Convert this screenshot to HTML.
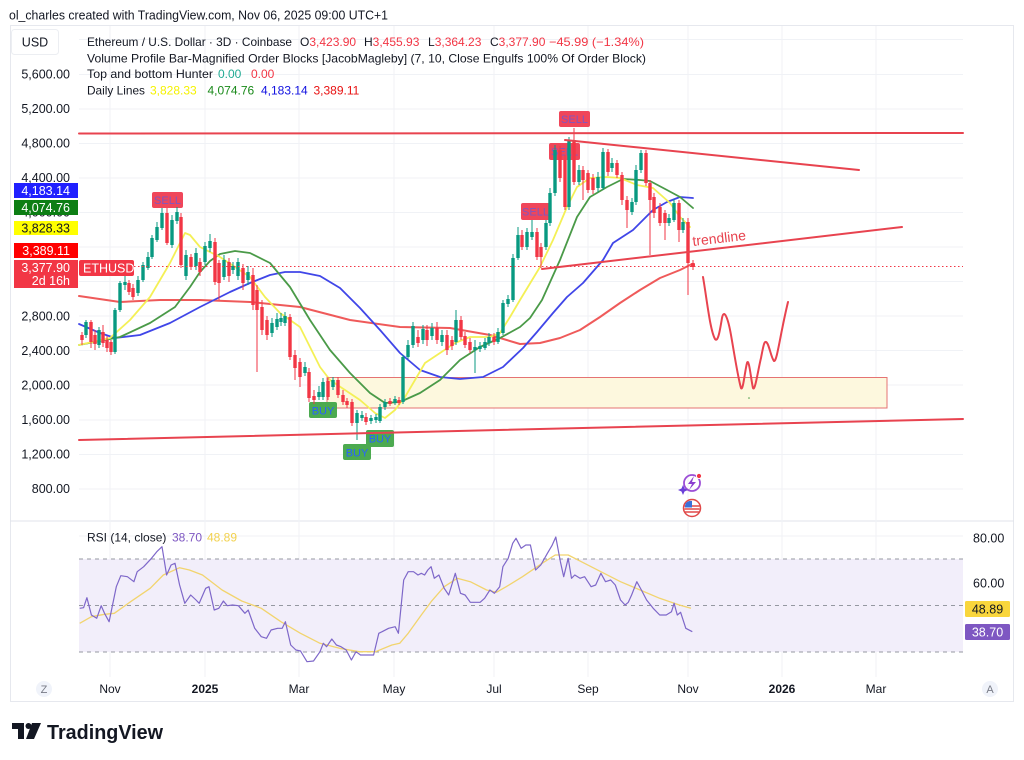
<!DOCTYPE html>
<html><head><meta charset="utf-8"><style>
html,body{margin:0;padding:0;background:#fff;}
svg{display:block;font-family:"Liberation Sans",Arial,sans-serif;}
</style></head><body>
<svg width="1024" height="760" viewBox="0 0 1024 760" xmlns="http://www.w3.org/2000/svg">
<rect width="1024" height="760" fill="#fff"/>
<!-- header -->
<text x="9" y="19.5" font-size="13" fill="#131722" textLength="379" lengthAdjust="spacingAndGlyphs">ol_charles created with TradingView.com, Nov 06, 2025 09:00 UTC+1</text>
<!-- frame -->
<rect x="10.5" y="25.5" width="1003" height="676" fill="none" stroke="#e6e8ee"/>
<line x1="10" y1="521" x2="1014" y2="521" stroke="#e0e3eb"/>
<!-- grid -->
<g stroke="#f0f2f6" stroke-width="1">
<path d="M79 39.5H963M79 74.5H963M79 109H963M79 143.5H963M79 178H963M79 212.5H963M79 247H963M79 281.5H963M79 316H963M79 350.5H963M79 385H963M79 420H963M79 454.5H963M79 489H963"/>
<path d="M79 536H963M79 582.5H963M79 629H963"/>
<path d="M110 26V677M205 26V677M299 26V677M394 26V677M494 26V677M588 26V677M688 26V677M782 26V677M876 26V677"/>
</g>
<!-- USD box -->
<rect x="11.5" y="29.5" width="47" height="25" rx="3" fill="#fff" stroke="#eceef2"/>
<text x="35" y="46.5" font-size="12.5" fill="#131722" text-anchor="middle">USD</text>
<!-- legend -->
<g font-size="12" fill="#131722">
<text x="87" y="46" textLength="205" lengthAdjust="spacingAndGlyphs">Ethereum / U.S. Dollar · 3D · Coinbase</text>
<text x="300" y="46">O<tspan fill="#f23645">3,423.90</tspan></text>
<text x="364" y="46">H<tspan fill="#f23645">3,455.93</tspan></text>
<text x="428" y="46">L<tspan fill="#f23645">3,364.23</tspan></text>
<text x="490" y="46">C<tspan fill="#f23645">3,377.90</tspan></text>
<text x="549" y="46" fill="#f23645" textLength="95" lengthAdjust="spacingAndGlyphs">−45.99 (−1.34%)</text>
<text x="87" y="62.5" textLength="559" lengthAdjust="spacingAndGlyphs">Volume Profile Bar-Magnified Order Blocks [JacobMagleby] (7, 10, Close Engulfs 100% Of Order Block)</text>
<text x="87" y="78" textLength="126" lengthAdjust="spacingAndGlyphs">Top and bottom Hunter</text>
<text x="218" y="78" fill="#22ab94">0.00</text>
<text x="251" y="78" fill="#f23645">0.00</text>
<text x="87" y="94.5" textLength="58" lengthAdjust="spacingAndGlyphs">Daily Lines</text>
<text x="150" y="94.5" fill="#f5f200">3,828.33</text>
<text x="207.5" y="94.5" fill="#1a8a1a">4,074.76</text>
<text x="261" y="94.5" fill="#1010e0">4,183.14</text>
<text x="313.5" y="94.5" fill="#e81010">3,389.11</text>
</g>
<!-- price axis labels -->
<g font-size="12.5" fill="#131722" text-anchor="end">
<text x="70" y="78.5">5,600.00</text>
<text x="70" y="113">5,200.00</text>
<text x="70" y="147.5">4,800.00</text>
<text x="70" y="182">4,400.00</text>
<text x="70" y="216.5">4,000.00</text>
<text x="70" y="320.5">2,800.00</text>
<text x="70" y="355">2,400.00</text>
<text x="70" y="389.5">2,000.00</text>
<text x="70" y="424">1,600.00</text>
<text x="70" y="458.5">1,200.00</text>
<text x="70" y="493">800.00</text>
</g>
<!-- order block zone -->
<rect x="327" y="377.5" width="560" height="30.5" fill="#fdf8de" stroke="#e57373" stroke-width="1"/>
<!-- moving averages -->
<g fill="none" stroke-linejoin="round" stroke-linecap="round">
<polyline stroke="#ef5a5a" stroke-width="2" points="79,296 120,302 160,300 200,300 250,302 300,307 350,320 400,327 450,328 490,335 520,344 540,343 560,338 580,330 600,317 620,303 640,290 660,278 680,270 692,264"/>
<polyline stroke="#4046e8" stroke-width="1.8" points="79,324 100,333 115,338 140,335 170,323 200,307 230,292 250,283 270,275 285,272 300,272 320,276 340,288 360,308 380,330 400,353 420,370 440,377 460,379 483,377 503,367 523,348 537,332 553,313 567,297 583,283 603,260 613,243 633,230 653,210 667,202 680,197 693,198"/>
<polyline stroke="#4a9a48" stroke-width="1.8" points="79,345 120,337 150,323 175,307 190,287 200,272 210,261 220,254 235,251 250,253 270,263 290,287 310,320 330,350 350,373 370,393 385,403 400,402 420,393 440,380 460,360 480,347 500,338 520,327 530,318 542,300 560,260 577,217 590,197 607,187 623,179 640,180 650,181 667,190 680,197 693,208"/>
<polyline stroke="#f4f056" stroke-width="1.8" points="79,345 110,338 130,320 150,297 170,263 180,243 185,233 190,235 200,247 220,257 235,267 250,277 265,297 280,313 300,327 310,347 320,367 330,380 345,390 360,400 375,413 385,418 395,410 405,397 415,380 425,363 440,353 455,343 470,337 490,337 500,333 510,317 520,300 540,267 553,240 567,207 577,187 590,178 607,177 620,178 637,185 653,188 670,203 680,217 690,227"/>
</g>
<!-- signal labels -->
<g font-size="11" text-anchor="middle">
<rect x="152" y="192" width="31" height="16" rx="2" fill="#f0465a"/><text x="167.5" y="204" fill="#7e57c2">SELL</text>
<rect x="559" y="111" width="31" height="16" rx="2" fill="#f0465a"/><text x="574.5" y="123" fill="#7e57c2">SELL</text>
<rect x="549" y="143" width="31" height="17" rx="2" fill="#f0465a"/><text x="564.5" y="155.5" fill="#7e57c2">SELL</text>
<rect x="521" y="203" width="29" height="17" rx="2" fill="#f0465a"/><text x="535.5" y="215.5" fill="#7e57c2">SELL</text>
<rect x="309" y="402" width="28" height="16" rx="2" fill="#4caa50"/><text x="323" y="414.5" fill="#2962ff">BUY</text>
<rect x="366" y="430" width="28" height="17" rx="2" fill="#4caa50"/><text x="380" y="442.5" fill="#2962ff">BUY</text>
<rect x="343" y="444" width="28" height="16" rx="2" fill="#4caa50"/><text x="357" y="456.5" fill="#2962ff">BUY</text>
</g>
<!-- candles -->
<path stroke="#089981" stroke-width="1" fill="none" d="M86 320V338M99 327V348M115 308V354M120 281V312M125 276V290M138 276V296M143 262V282M148 252V270M152 235V259M157 222V242M162 208V230M172 215V248M177 207V224M186 250V280M196 248V270M205 242V265M210 234V252M224 255V280M233 262V274M238 258V280M248 266V285M272 318V337M277 313V330M281 313V326M285 312V326M305 362V376M319 386V400M323 378V400M333 377V390M357 410V440M362 411V421M371 415V424M376 414V423M380 404V423M385 399V410M395 396V405M403 355V404M408 340V359M413 322V348M423 325V344M432 323V340M442 330V346M456 310V345M475 340V373M480 342V352M485 338V350M489 333V346M498 328V344M503 300V335M508 295V307M513 254V302M518 227V260M527 228V250M532 220V240M546 220V250M550 188V226M555 145V196M569 137V210M579 165V185M598 172V192M603 148V190M612 158V172M632 198V215M636 165V205M641 150V173M669 214V226M674 199V222M683 218V233"/>
<path fill="#089981" d="M84.3 322h3.4v13h-3.4zM97.3 330h3.4v15h-3.4zM113.3 310h3.4v42h-3.4zM118.3 283h3.4v27h-3.4zM123.3 282h3.4v3h-3.4zM136.3 280h3.4v13h-3.4zM141.3 265h3.4v15h-3.4zM146.3 257h3.4v11h-3.4zM150.3 238h3.4v19h-3.4zM155.3 227h3.4v13h-3.4zM160.3 213h3.4v15h-3.4zM170.3 220h3.4v25h-3.4zM175.3 212h3.4v9h-3.4zM184.3 255h3.4v21h-3.4zM194.3 253h3.4v13h-3.4zM203.3 246h3.4v16h-3.4zM208.3 241h3.4v7h-3.4zM222.3 260h3.4v17h-3.4zM231.3 266h3.4v4h-3.4zM236.3 262h3.4v14h-3.4zM246.3 272h3.4v8h-3.4zM270.3 323h3.4v10h-3.4zM275.3 319h3.4v8h-3.4zM279.3 318h3.4v4h-3.4zM283.3 316h3.4v7h-3.4zM303.3 367h3.4v6h-3.4zM317.3 392h3.4v5h-3.4zM321.3 382h3.4v15h-3.4zM331.3 380h3.4v7h-3.4zM355.3 413h3.4v10h-3.4zM360.3 415h3.4v3h-3.4zM369.3 418h3.4v3h-3.4zM374.3 417h3.4v3h-3.4zM378.3 407h3.4v14h-3.4zM383.3 402h3.4v5h-3.4zM393.3 399h3.4v4h-3.4zM401.3 357h3.4v45h-3.4zM406.3 345h3.4v12h-3.4zM411.3 326h3.4v19h-3.4zM421.3 329h3.4v11h-3.4zM430.3 328h3.4v8h-3.4zM440.3 335h3.4v7h-3.4zM454.3 320h3.4v22h-3.4zM473.3 347h3.4v3h-3.4zM478.3 346h3.4v3h-3.4zM483.3 342h3.4v6h-3.4zM487.3 337h3.4v6h-3.4zM496.3 332h3.4v10h-3.4zM501.3 303h3.4v30h-3.4zM506.3 299h3.4v5h-3.4zM511.3 258h3.4v42h-3.4zM516.3 235h3.4v23h-3.4zM525.3 232h3.4v15h-3.4zM530.3 232h3.4v5h-3.4zM544.3 223h3.4v24h-3.4zM548.3 193h3.4v30h-3.4zM553.3 150h3.4v43h-3.4zM567.3 140h3.4v67h-3.4zM577.3 170h3.4v12h-3.4zM596.3 177h3.4v11h-3.4zM601.3 152h3.4v36h-3.4zM610.3 163h3.4v5h-3.4zM630.3 202h3.4v10h-3.4zM634.3 170h3.4v32h-3.4zM639.3 153h3.4v17h-3.4zM667.3 218h3.4v5h-3.4zM672.3 203h3.4v17h-3.4zM681.3 222h3.4v8h-3.4z"/>
<path stroke="#f23645" stroke-width="1" fill="none" d="M82 332V345M91 320V348M95 330V350M103 325V347M107 336V352M111 340V355M129 280V295M133 284V300M167 208V245M181 213V268M191 254V270M200 258V276M215 238V285M219 260V300M229 258V282M243 264V290M253 268V310M257 285V372M262 300V335M267 316V340M290 314V360M295 350V380M300 358V387M309 368V402M314 390V404M328 377V400M338 377V398M343 390V405M347 398V408M352 399V426M366 413V425M390 398V406M399 397V405M418 330V347M427 325V346M437 322V344M447 330V355M452 336V350M461 316V340M465 332V348M470 338V353M494 333V345M522 230V250M537 228V260M541 243V268M560 146V182M565 155V210M574 128V185M583 166V200M588 170V193M593 174V194M608 149V176M617 160V178M622 172V205M627 196V228M646 150V186M650 180V255M654 193V218M660 203V226M665 210V240M679 200V242M688 218V295M693 260V270"/>
<path fill="#f23645" d="M80.3 335h3.4v5h-3.4zM89.3 322h3.4v20h-3.4zM93.3 335h3.4v9h-3.4zM101.3 332h3.4v11h-3.4zM105.3 340h3.4v8h-3.4zM109.3 342h3.4v10h-3.4zM127.3 283h3.4v9h-3.4zM131.3 288h3.4v9h-3.4zM165.3 213h3.4v30h-3.4zM179.3 217h3.4v48h-3.4zM189.3 257h3.4v10h-3.4zM198.3 262h3.4v10h-3.4zM213.3 242h3.4v40h-3.4zM217.3 263h3.4v20h-3.4zM227.3 262h3.4v14h-3.4zM241.3 268h3.4v15h-3.4zM251.3 275h3.4v30h-3.4zM255.3 290h3.4v20h-3.4zM260.3 307h3.4v23h-3.4zM265.3 320h3.4v15h-3.4zM288.3 317h3.4v40h-3.4zM293.3 355h3.4v13h-3.4zM298.3 362h3.4v15h-3.4zM307.3 372h3.4v26h-3.4zM312.3 396h3.4v4h-3.4zM326.3 381h3.4v16h-3.4zM336.3 380h3.4v15h-3.4zM341.3 395h3.4v7h-3.4zM345.3 401h3.4v4h-3.4zM350.3 402h3.4v21h-3.4zM364.3 417h3.4v5h-3.4zM388.3 401h3.4v3h-3.4zM397.3 400h3.4v3h-3.4zM416.3 337h3.4v6h-3.4zM425.3 330h3.4v10h-3.4zM435.3 328h3.4v12h-3.4zM445.3 335h3.4v15h-3.4zM450.3 340h3.4v6h-3.4zM459.3 320h3.4v17h-3.4zM463.3 336h3.4v9h-3.4zM468.3 342h3.4v8h-3.4zM492.3 337h3.4v5h-3.4zM520.3 235h3.4v12h-3.4zM535.3 232h3.4v25h-3.4zM539.3 247h3.4v10h-3.4zM558.3 150h3.4v28h-3.4zM563.3 160h3.4v47h-3.4zM572.3 140h3.4v42h-3.4zM581.3 170h3.4v10h-3.4zM586.3 173h3.4v17h-3.4zM591.3 178h3.4v12h-3.4zM606.3 152h3.4v20h-3.4zM615.3 163h3.4v12h-3.4zM620.3 175h3.4v25h-3.4zM625.3 200h3.4v10h-3.4zM644.3 153h3.4v30h-3.4zM648.3 183h3.4v17h-3.4zM652.3 197h3.4v16h-3.4zM658.3 207h3.4v16h-3.4zM663.3 213h3.4v10h-3.4zM677.3 203h3.4v27h-3.4zM686.3 222h3.4v41h-3.4zM691.3 263h3.4v4h-3.4z"/>
<!-- current price dotted line -->
<line x1="134" y1="266.5" x2="963" y2="266.5" stroke="#f23645" stroke-width="1" stroke-dasharray="1.5,2.5"/>
<circle cx="693" cy="265" r="2" fill="#f23645"/>
<!-- drawn lines -->
<g stroke="#e8434f" stroke-width="2" fill="none" stroke-linecap="round" stroke-linejoin="round">
<line x1="79" y1="133.5" x2="963" y2="133"/>
<line x1="565" y1="140" x2="859" y2="170"/>
<line x1="542" y1="269" x2="902" y2="227"/>
<line x1="79" y1="440" x2="963" y2="419"/>
<path d="M703,277 C707,300 710,330 715,339 C718,343 720,330 722,318 C724,308 728,318 731,335 C734,352 738,378 741,388 C743,392 745,370 747,363 C749,357 751,380 753,388 C755,392 758,370 761,358 C763,348 764,341 766,342 C769,343 771,358 774,361 C777,362 780,335 788,302"/>
</g>
<circle cx="749" cy="398" r="0.8" fill="#4a9a48"/>
<text x="693" y="246" font-size="14" fill="#e8434f" transform="rotate(-6.6 693 246)">trendline</text>
<!-- icons -->
<g>
<circle cx="692" cy="483" r="8" fill="none" stroke="#9b4dd6" stroke-width="1.8"/>
<path d="M694,476 L688,484 L692,484 L689,490 L696,482 L692,482 Z" fill="#8b3fd0"/>
<path d="M683,485 L684.5,488.5 L688,490 L684.5,491.5 L683,495 L681.5,491.5 L678,490 L681.5,488.5 Z" fill="#6a3fd8"/>
<circle cx="699" cy="476" r="2.6" fill="#f23645" stroke="#fff" stroke-width="1"/>
<circle cx="692" cy="508" r="8.5" fill="#fff" stroke="#e04848" stroke-width="1.5"/>
<path d="M684.5,506h15M684.5,509h15M685,512h14" stroke="#e04848" stroke-width="1.4"/>
<path d="M685.5,503.5 A7,7 0 0 1 692,501 L692,507.5 L684.8,507.5 Z" fill="#3a6fd8"/>
</g>
<!-- left axis value boxes -->
<g font-size="12.5" text-anchor="end">
<rect x="14" y="183" width="64" height="15" fill="#2020ff"/><text x="70" y="195" fill="#fff">4,183.14</text>
<rect x="14" y="200" width="64" height="15" fill="#0d7e14"/><text x="70" y="212" fill="#fff">4,074.76</text>
<rect x="14" y="221" width="64" height="14" fill="#ffff00"/><text x="70" y="232.5" fill="#131722">3,828.33</text>
<rect x="14" y="243" width="64" height="15" fill="#ff0000"/><text x="70" y="255" fill="#fff">3,389.11</text>
<rect x="14" y="260" width="64" height="28" fill="#f23645"/><text x="70" y="272" fill="#fff">3,377.90</text><text x="70" y="285" fill="#fff">2d 16h</text>
</g>
<rect x="79" y="260" width="55" height="16" rx="2" fill="#f23645"/>
<text x="83" y="272.5" font-size="12.5" fill="#fff">ETHUSD</text>
<!-- RSI pane -->
<rect x="79" y="559" width="884" height="93" fill="#f2eefa"/>
<g stroke="#9598a1" stroke-width="1" stroke-dasharray="4,4">
<line x1="79" y1="559" x2="963" y2="559"/>
<line x1="79" y1="605.5" x2="963" y2="605.5"/>
<line x1="79" y1="652" x2="963" y2="652"/>
</g>
<polyline fill="none" stroke="#f2d46e" stroke-width="1.3" stroke-linejoin="round" points="79.7,623.3 91.4,616.7 104.5,614.3 114.3,613.3 130.6,601.7 150.2,588.3 163.3,575 179.6,567.7 189.4,570 202.5,575 222.1,590 241.7,601 261.3,608.3 280.9,621.7 300.5,633.3 320,643.3 339.6,648.3 359.2,651.7 375.6,651.7 391.9,645 399.7,643.3 408.2,633.3 421.3,615 431.1,601.7 444.2,586.7 457.2,578.3 470.3,581.7 486.6,590 496.4,592.3 506.2,586.7 522.5,576.7 542.1,563.3 555.2,555 568.2,555 581.3,561.7 600.9,571.7 620.5,581.7 640.1,590 659.7,598.3 679.3,605 691,608.3"/>
<polyline fill="none" stroke="#7e67c9" stroke-width="1.2" stroke-linejoin="round" points="79.7,608.3 83.6,607.7 86.9,597.7 91.4,615 96.7,618.3 101.2,605.7 104.5,613.3 109.1,621.7 116.3,586.7 120.8,575.7 127.4,576.7 133.9,581.7 137.2,571.7 143.7,566.7 151.5,558.3 156.8,551.7 162,546.7 166.6,575 171.1,565 175,563.3 179.6,585 184.8,603.3 190.7,595 196,600 199.2,603.3 205.7,588.3 209,586.7 214.2,610 218.8,608.3 223.4,601 227.3,605.7 232.5,605 238.4,605.7 244.9,613.3 248.2,610 254.7,628.3 261.3,636.7 266.5,638.3 271.1,630 277.6,628.3 282.2,628.3 285.4,621.7 290.7,645 295.9,650 300.5,651 307,661.7 313.5,661 320,651.7 323.3,643.3 326.6,646.7 331.8,639 336.4,645 341,646.7 346.2,650 351.4,660 356,651.7 360.5,655 365.8,655 373.6,655 378.8,633.3 382.1,631.7 388.6,628.3 395.2,626.7 398.4,633.3 403.7,580 408.2,571.7 413.5,571.7 418,575 421.3,573.3 424.6,575 427.8,570 431.1,566.7 434.3,578.3 438.9,575 444.2,588.3 448.7,595 455.3,573.3 460.5,593.3 465.1,595 470.3,602.3 480.1,602.3 484.6,598.3 489.9,590 494.4,593.3 499.7,586.7 502.9,566.7 508.2,558.3 512.7,543.3 516,538.3 521.2,548.3 525.8,545 530.4,545 535.6,570 540.8,565 547.4,553.3 551.9,545.7 555.8,537 560.4,561.7 563.7,576.7 568.2,558.3 571.5,578.3 574.8,575 580,578.3 584.6,576.7 591.1,586.7 595.7,585 600.9,573.3 605.5,581.7 610.7,580 615.3,585 620.5,600 625.1,605 628.3,602.3 631.6,595 636.8,581.7 641.4,590 646.6,600 653.2,608.3 659.7,615 666.2,615 671.5,611.7 674.1,603.3 677.3,615 680.6,612.3 685.8,628.3 692.3,631.7"/>
<g font-size="12">
<text x="87" y="541.5" fill="#131722">RSI (14, close)</text>
<text x="172" y="541.5" fill="#7e57c2">38.70</text>
<text x="207" y="541.5" fill="#f2d14e">48.89</text>
</g>
<g font-size="12.5" fill="#131722">
<text x="973" y="542.5">80.00</text>
<text x="973" y="587.5">60.00</text>
</g>
<rect x="965" y="601" width="45" height="16" rx="1.5" fill="#f9d63c"/>
<text x="987.5" y="613.5" font-size="12.5" fill="#131722" text-anchor="middle">48.89</text>
<rect x="965" y="624" width="45" height="16" rx="1.5" fill="#7e57c2"/>
<text x="987.5" y="636.5" font-size="12.5" fill="#fff" text-anchor="middle">38.70</text>
<!-- time axis -->
<circle cx="44" cy="689" r="8" fill="#f0f3fa"/>
<circle cx="990" cy="689" r="8" fill="#f0f3fa"/>
<g font-size="12" fill="#131722" text-anchor="middle">
<text x="44" y="693" fill="#787b86" font-size="11">Z</text>
<text x="990" y="693" fill="#787b86" font-size="11">A</text>
<text x="110" y="693">Nov</text>
<text x="205" y="693" font-weight="bold">2025</text>
<text x="299" y="693">Mar</text>
<text x="394" y="693">May</text>
<text x="494" y="693">Jul</text>
<text x="588" y="693">Sep</text>
<text x="688" y="693">Nov</text>
<text x="782" y="693" font-weight="bold">2026</text>
<text x="876" y="693">Mar</text>
</g>
<!-- TradingView logo -->
<g fill="#131722">
<path d="M12,723 H24 V739 H18 V729 H12 Z"/>
<circle cx="28.5" cy="726" r="3"/>
<path d="M32,723 H41 L34,739 H26 Z"/>
<text x="47" y="739" font-size="20" font-weight="bold" textLength="116" lengthAdjust="spacingAndGlyphs">TradingView</text>
</g>
</svg>
</body></html>
